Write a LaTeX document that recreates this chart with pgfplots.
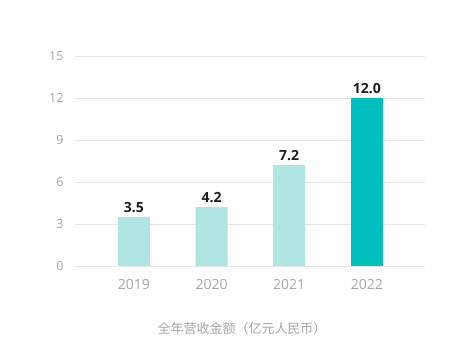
\documentclass[border=0pt]{standalone}
\usepackage{fontspec}
\setmainfont{Open Sans}
\newfontfamily\cjk{Noto Sans CJK SC}
\usepackage{pgfplots}
\pgfplotsset{compat=1.18}
\definecolor{lightteal}{HTML}{B0E5E2}
\definecolor{darkteal}{HTML}{00BFBF}
\definecolor{gridgray}{HTML}{E6E6E6}
\definecolor{ticktext}{HTML}{A6A6A6}
\definecolor{labeltext}{HTML}{1E1E1E}
\begin{document}
\begin{tikzpicture}[x=1pt,y=1pt]
\useasboundingbox (0,0) rectangle (464,359);
\begin{axis}[
  at={(75pt,93pt)}, anchor=south west,
  scale only axis, width=350pt, height=210pt,
  xmin=-0.76, xmax=3.75, ymin=0, ymax=15,
  axis line style={draw=none},
  ytick={0,3,6,9,12,15},
  xtick={0,1,2,3},
  xticklabels={2019,2020,2021,2022},
  major tick length=0pt,
  ymajorgrids, grid style={gridgray, line width=0.8pt},
  /pgf/number format/assume math mode=true,
  yticklabel style={font=\fontsize{12.5}{14}\selectfont, text=ticktext, xshift=-8pt},
  xticklabel style={font=\fontsize{14}{16}\selectfont, text=ticktext, yshift=-10pt},
  ybar, bar width=32pt,
  nodes near coords,
  nodes near coords style={font=\fontsize{14}{16}\selectfont\bfseries, text=labeltext, yshift=1pt, /pgf/number format/.cd, fixed, fixed zerofill, precision=1},
  clip=false,
]
\addplot[fill=lightteal, draw=none, bar shift=0pt] coordinates {(0,3.5) (1,4.2) (2,7.2)};
\addplot[fill=darkteal, draw=none, bar shift=0pt] coordinates {(3,12.0)};
\end{axis}
\node[font=\cjk\fontsize{13}{15}\selectfont, text=ticktext] at (242,30) {全年营收金额（亿元人民币）};
\end{tikzpicture}
\end{document}
